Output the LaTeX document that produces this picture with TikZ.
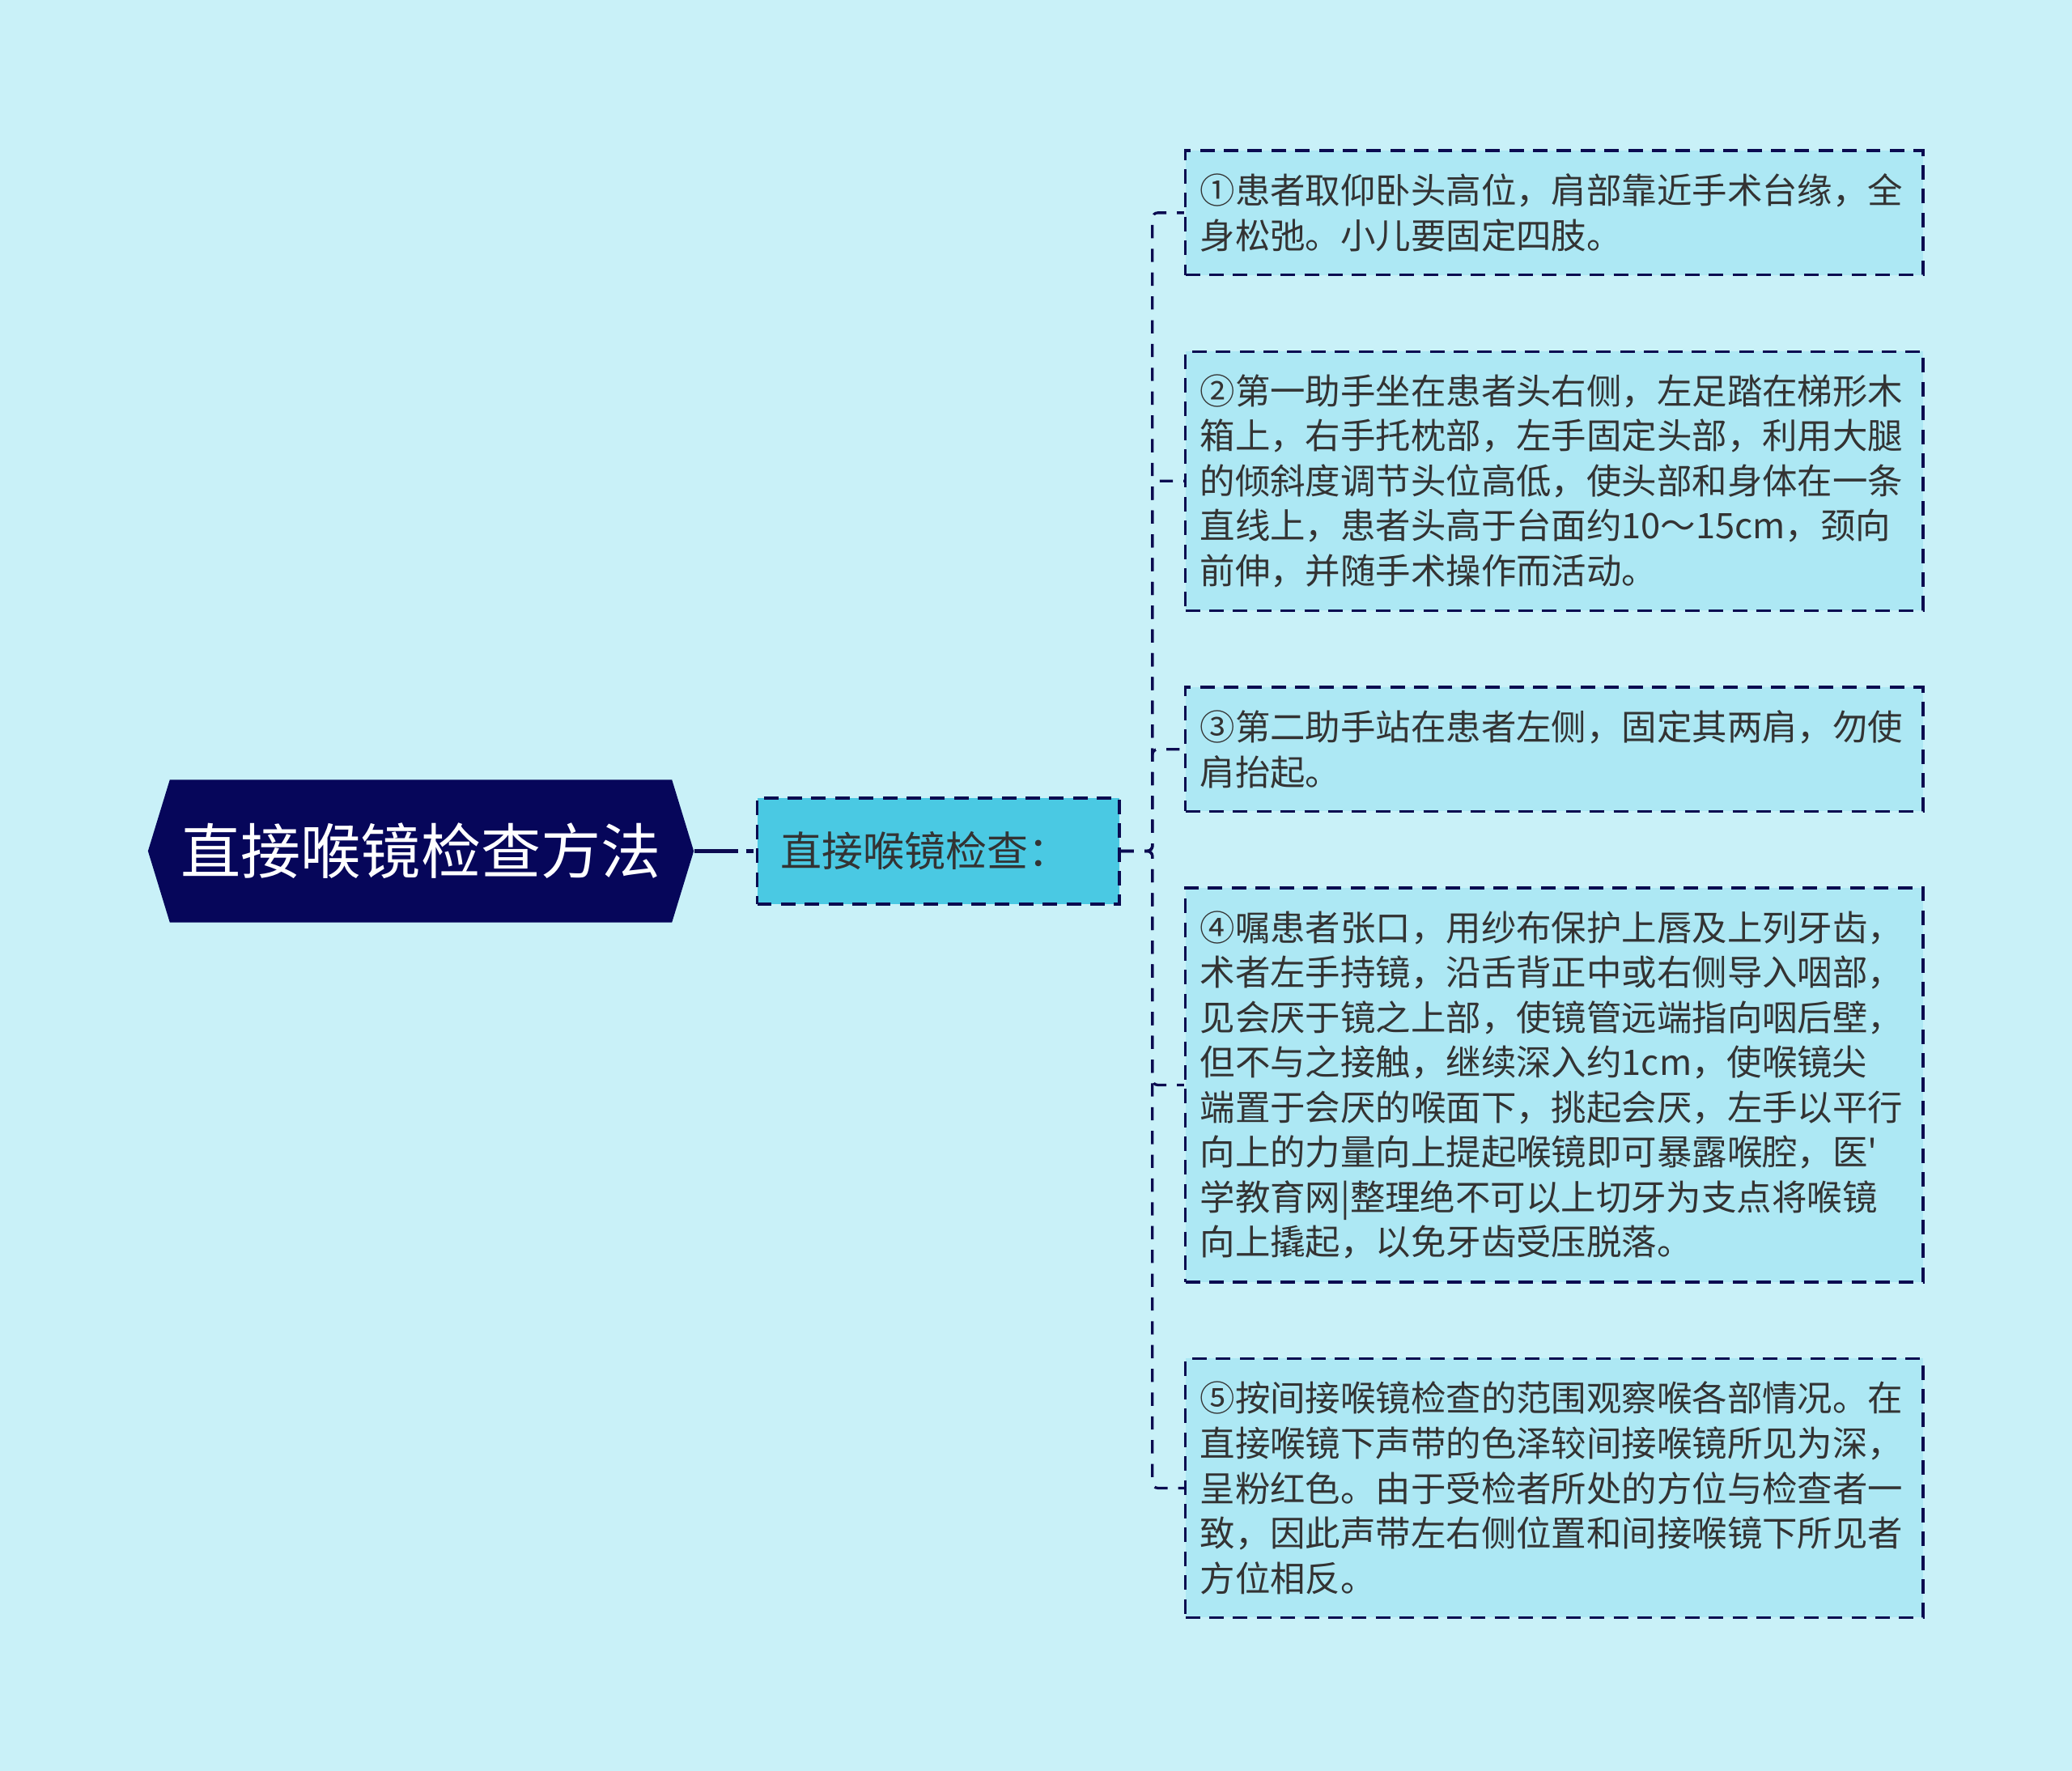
\documentclass[tikz,border=0pt]{standalone}
\usepackage{fontspec}
\setmainfont{Noto Sans CJK SC}
\usepackage{tikz}
\usetikzlibrary{shapes.symbols}
\definecolor{bgcyan}{HTML}{C9F1F8}
\definecolor{rootnavy}{HTML}{06065A}
\definecolor{linenavy}{HTML}{0B0B50}
\definecolor{subcyan}{HTML}{4AC9E3}
\definecolor{leafcyan}{HTML}{ADE8F4}
\definecolor{textgray}{HTML}{333333}
\tikzset{
    rootshape/.style={signal, signal to=west and east, signal pointer angle=146,
        fill=rootnavy, text=white, inner sep=0pt,
        minimum width=206.5pt, minimum height=54pt,
        font=\fontsize{22.7}{27}\selectfont},
    subbox/.style={draw=linenavy, line width=1.1pt, dash pattern=on 5.5pt off 3.5pt,
        fill=subcyan, text=textgray, align=left, text width=119pt,
        inner xsep=9pt, minimum height=40pt,
        font=\fontsize{15.6}{19}\selectfont},
    leafbox/.style={draw=linenavy, line width=1.1pt, dash pattern=on 5.5pt off 3.5pt,
        fill=leafcyan, text=textgray, align=left, text width=268pt,
        inner xsep=5.5pt, inner ysep=0pt, anchor=west,
        font=\fontsize{13.3}{17}\selectfont},
    link/.style={draw=linenavy, line width=1pt, dash pattern=on 5pt off 4pt}
}
\begin{document}
\begin{tikzpicture}[x=0.5pt, y=-0.5pt]
    \fill[bgcyan] (0,0) rectangle (1568,1340);
    \useasboundingbox (0,0) rectangle (1568,1340);
    % root and its one child
    \node[rootshape] (root) at (318.5,644) {直接喉镜检查方法};
    \node[subbox] (sub) at (710,644) {直接喉镜检查：};
    % the five steps
    \node[leafbox, minimum height=47pt] (leaf1) at (896,161)
        {①患者取仰卧头高位，肩部靠近手术台缘，全\\身松弛。小儿要固定四肢。};
    \node[leafbox, minimum height=98pt] (leaf2) at (896,364)
        {②第一助手坐在患者头右侧，左足踏在梯形木\\箱上，右手托枕部，左手固定头部，利用大腿\\的倾斜度调节头位高低，使头部和身体在一条\\直线上，患者头高于台面约10～15cm，颈向\\前伸，并随手术操作而活动。};
    \node[leafbox, minimum height=47pt] (leaf3) at (896,567)
        {③第二助手站在患者左侧，固定其两肩，勿使\\肩抬起。};
    \node[leafbox, minimum height=149pt] (leaf4) at (896,821)
        {④嘱患者张口，用纱布保护上唇及上列牙齿，\\术者左手持镜，沿舌背正中或右侧导入咽部，\\见会厌于镜之上部，使镜管远端指向咽后壁，\\但不与之接触，继续深入约1cm，使喉镜尖\\端置于会厌的喉面下，挑起会厌，左手以平行\\向上的力量向上提起喉镜即可暴露喉腔，医\textquotesingle\\学教育网|整理绝不可以上切牙为支点将喉镜\\向上撬起，以免牙齿受压脱落。};
    \node[leafbox, minimum height=98pt] (leaf5) at (896,1126)
        {⑤按间接喉镜检查的范围观察喉各部情况。在\\直接喉镜下声带的色泽较间接喉镜所见为深，\\呈粉红色。由于受检者所处的方位与检查者一\\致，因此声带左右侧位置和间接喉镜下所见者\\方位相反。};
    % connectors
    \draw[link, line width=1.4pt, dash pattern=on 16.5pt off 3pt on 3pt off 3pt]
        (root.east) -- (sub.west);
    \foreach \i in {1,...,5}
        \draw[link, rounded corners=2pt] (sub.east) -- ++(24,0) |- (leaf\i.west);
\end{tikzpicture}
\end{document}
